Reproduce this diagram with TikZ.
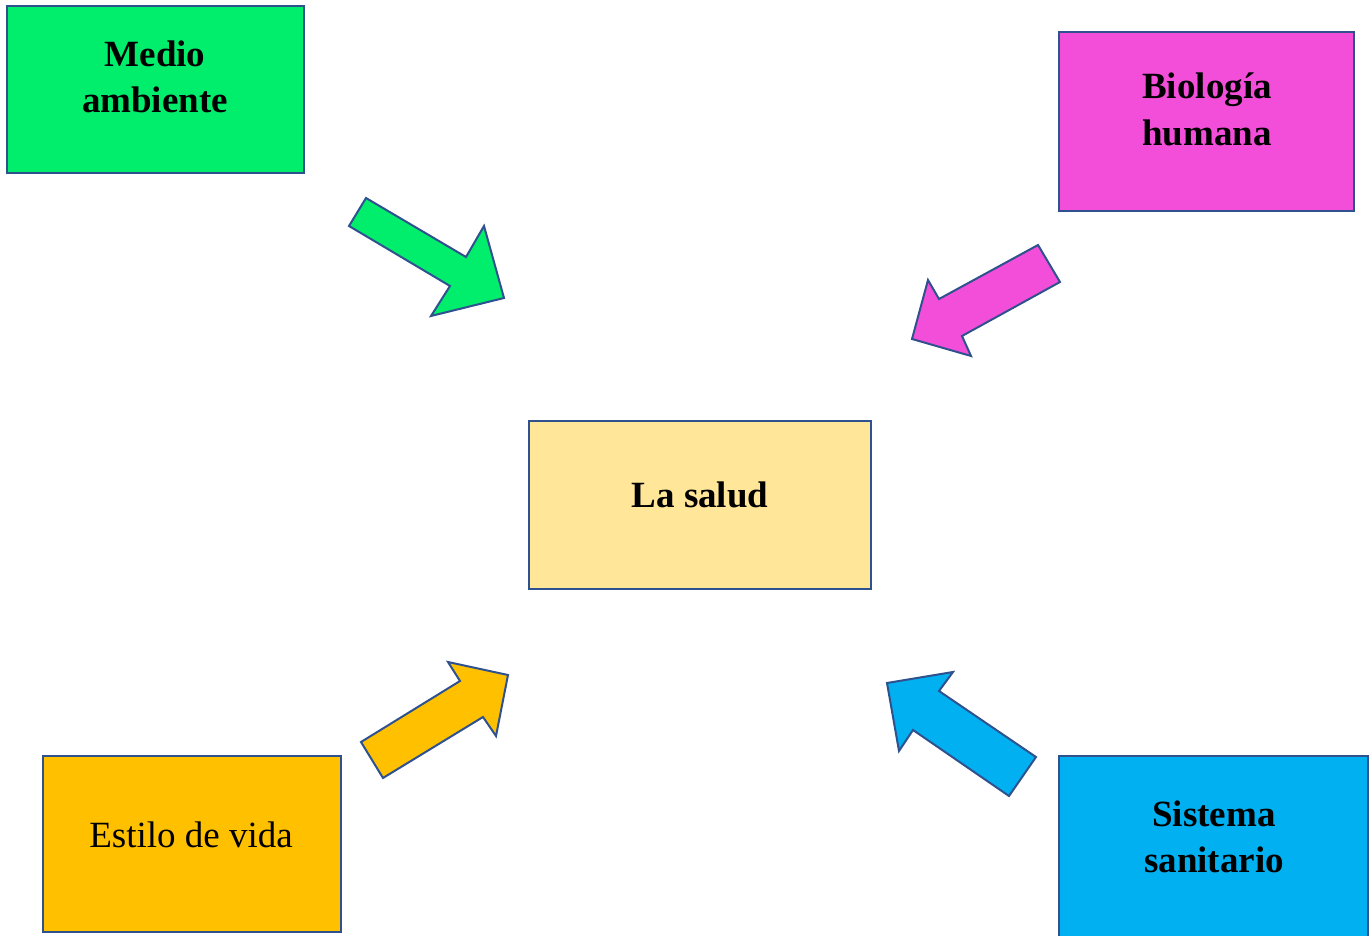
\documentclass[tikz,border=0pt]{standalone}
\usepackage{fontspec}
\setmainfont{Liberation Serif}
\definecolor{bordc}{HTML}{2F528F}
\definecolor{cgreen}{HTML}{00EE6C}
\definecolor{cmag}{HTML}{F24ED9}
\definecolor{cyel}{HTML}{FFE699}
\definecolor{corange}{HTML}{FFC000}
\definecolor{cblue}{HTML}{00B0F0}
\begin{document}
\begin{tikzpicture}[x=0.5pt,y=-0.5pt,
  boxst/.style={draw=bordc,line width=1pt},
  arrowst/.style={draw=bordc,line width=1pt,line join=miter},
  lbl/.style={anchor=base,inner sep=0pt,font=\fontsize{18.5}{22}\selectfont\bfseries},
  lblr/.style={anchor=base,inner sep=0pt,font=\fontsize{18.5}{22}\selectfont}]
\useasboundingbox (0,0) rectangle (1372,936);
\clip (0,0) rectangle (1372,936);
% boxes
\path[boxst,fill=cgreen] (7,6) rectangle (304,173);
\path[boxst,fill=cmag] (1059,32) rectangle (1354,211);
\path[boxst,fill=cyel] (529,421) rectangle (871,589);
\path[boxst,fill=corange] (43,756) rectangle (341,932);
\path[boxst,fill=cblue] (1059,756) rectangle (1368,950);
% labels
\node[lbl] (t1a) at (155,67) {Medio};
\node[lbl] (t1b) at (155,113) {ambiente};
\node[lbl] (t2a) at (1207,99) {Biología};
\node[lbl] (t2b) at (1207,146) {humana};
\node[lbl] (t3) at (700,507) {La salud};
\node[lblr] (t4) at (191,847) {Estilo de vida};
\node[lbl] (t5a) at (1214,826) {Sistema};
\node[lbl] (t5b) at (1214,872) {sanitario};
% block arrows
\draw[arrowst,fill=cgreen] (366,198) -- (466,257) -- (484,226) -- (504,298) -- (431,316) -- (450,286) -- (349,226) -- cycle;
\draw[arrowst,fill=cmag] (1038,245) -- (939,299) -- (928,280) -- (912,339) -- (971,356) -- (962,336) -- (1060,282) -- cycle;
\draw[arrowst,fill=corange] (361,742) -- (460,681) -- (448,662) -- (508,675) -- (496,736) -- (483,717) -- (383,778) -- cycle;
\draw[arrowst,fill=cblue] (1036,757) -- (939,691) -- (953,672) -- (887,683) -- (899,751) -- (913,730) -- (1009,796) -- cycle;
\end{tikzpicture}
\end{document}
